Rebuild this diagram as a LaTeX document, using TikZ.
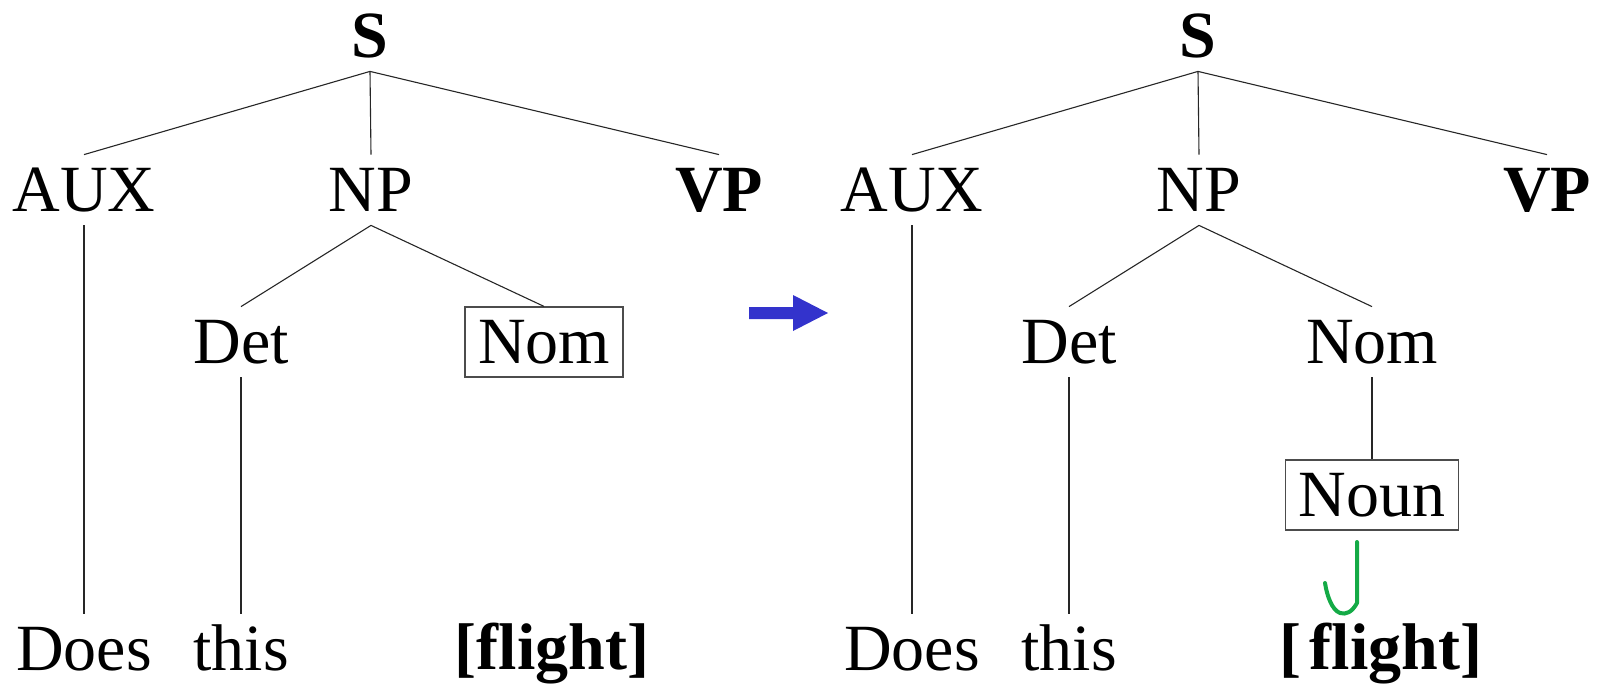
\documentclass[tikz,border=0pt]{standalone}
\usepackage{fontspec}
\setmainfont{Liberation Serif}
\definecolor{arrowblue}{RGB}{51,51,204}
\definecolor{checkgreen}{RGB}{20,170,70}
\begin{document}
\begin{tikzpicture}[x=0.5pt,y=-0.5pt,
  cat/.style={font=\fontsize{33}{40}\selectfont, anchor=base, inner xsep=0pt, inner ysep=0pt, text height=28pt, text depth=7pt},
  catb/.style={cat, font=\fontsize{33}{40}\selectfont\bfseries},
  boxed/.style={draw=black!70, line width=0.6pt, inner xsep=6.5pt},
  edge/.style={draw=black!85, line width=0.55pt}]
\useasboundingbox (0,0) rectangle (1600,686);
% left tree
\node[catb] (S1) at (370,57) {S};
\node[cat] (AUX1) at (84,211) {AUX};
\node[cat] (NP1) at (371,211) {NP};
\node[catb] (VP1) at (719,211) {VP};
\node[cat] (Det1) at (241,363) {Det};
\node[cat,boxed] (Nom1) at (544,363) {Nom};
\node[cat] (Does1) at (84,670) {Does};
\node[cat] (this1) at (241,670) {this};
\node[catb] (fl1) at (552,669) {[flight]};
\draw[edge] (S1.south) -- (AUX1.north);
\draw[edge] (S1.south) -- (NP1.north);
\draw[edge] (S1.south) -- (VP1.north);
\draw[edge] (AUX1.south) -- (Does1.north);
\draw[edge] (NP1.south) -- (Det1.north);
\draw[edge] (NP1.south) -- (Nom1.north);
\draw[edge] (Det1.south) -- (this1.north);
% arrow
\fill[arrowblue] (749,307) -- (793,307) -- (793,295) -- (828,313) -- (793,331) -- (793,319) -- (749,319) -- cycle;
% right tree
\node[catb] (S2) at (1198,57) {S};
\node[cat] (AUX2) at (912,211) {AUX};
\node[cat] (NP2) at (1199,211) {NP};
\node[catb] (VP2) at (1547,211) {VP};
\node[cat] (Det2) at (1069,363) {Det};
\node[cat] (Nom2) at (1372,363) {Nom};
\node[cat,boxed] (Noun2) at (1372,516) {Noun};
\node[cat] (Does2) at (912,670) {Does};
\node[cat] (this2) at (1069,670) {this};
\node[catb] (fl2) at (1381,669) {\spaceskip=0.12em [ flight]};
\draw[edge] (S2.south) -- (AUX2.north);
\draw[edge] (S2.south) -- (NP2.north);
\draw[edge] (S2.south) -- (VP2.north);
\draw[edge] (AUX2.south) -- (Does2.north);
\draw[edge] (NP2.south) -- (Det2.north);
\draw[edge] (NP2.south) -- (Nom2.north);
\draw[edge] (Det2.south) -- (this2.north);
\draw[edge] (Nom2.south) -- (Noun2.north);
% green hook
\draw[checkgreen, line width=2pt, line cap=round, line join=round] (1357,542) -- (1357,603) .. controls (1352,612) and (1346,615) .. (1340,613) .. controls (1332,610) and (1327,596) .. (1325,583);
\end{tikzpicture}
\end{document}
